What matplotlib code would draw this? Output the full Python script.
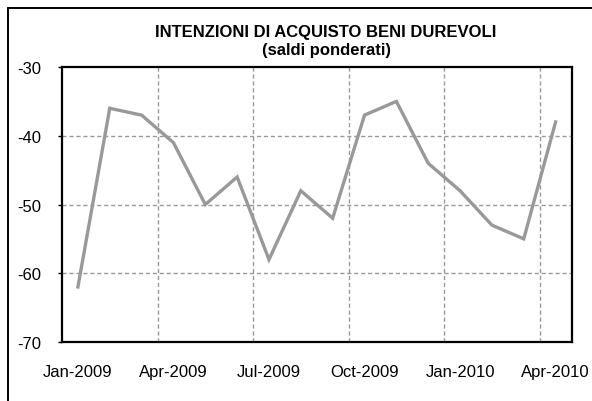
"""Intenzioni di acquisto beni durevoli - saldi ponderati."""

import matplotlib

matplotlib.use("Agg")
import matplotlib.pyplot as plt
from matplotlib.patches import Rectangle


MONTHS = [
    "Jan-2009", "Feb-2009", "Mar-2009", "Apr-2009", "May-2009", "Jun-2009",
    "Jul-2009", "Aug-2009", "Sep-2009", "Oct-2009", "Nov-2009", "Dec-2009",
    "Jan-2010", "Feb-2010", "Mar-2010", "Apr-2010",
]
SALDI = [-62, -36, -37, -41, -50, -46, -58, -48, -52, -37, -35, -44, -48, -53, -55, -38]
Y_TICKS = [-70, -60, -50, -40, -30]
TITLE = "INTENZIONI DI ACQUISTO BENI DUREVOLI"
SUBTITLE = "(saldi ponderati)"

plt.rcParams["font.family"] = ["Liberation Sans", "DejaVu Sans"]

fig = plt.figure(figsize=(5.92, 4.02), dpi=100)
ax = fig.add_axes([0.1047, 0.1468, 0.8607, 0.684])

# outer chart frame (runs off the right and bottom edges)
fig.patches.append(
    Rectangle((8 / 592, -0.05), 1.0, 1 - 9 / 402 + 0.05,
              transform=fig.transFigure, fill=False,
              edgecolor="black", linewidth=1.4)
)

x = list(range(len(MONTHS)))
ax.plot(x, SALDI, color="#999999", linewidth=2.4, solid_joinstyle="miter", zorder=3)

ax.set_xlim(-0.5, len(MONTHS) - 0.5)
ax.set_ylim(Y_TICKS[0], Y_TICKS[-1])
ax.set_yticks(Y_TICKS)
ax.set_yticklabels([str(v) for v in Y_TICKS])
ax.set_xticks(x[::3])
ax.set_xticklabels(MONTHS[::3])

# gridlines sit between categories, every 3 months
for boundary in [2.5, 5.5, 8.5, 11.5, 14.5]:
    ax.axvline(boundary, color="#999999", linestyle=(0, (3, 2)), linewidth=1.0, zorder=1)
for level in Y_TICKS[1:-1]:
    ax.axhline(level, color="#999999", linestyle=(0, (3, 2)), linewidth=1.0, zorder=1)

ax.tick_params(axis="y", direction="out", length=3, width=1.0, pad=12, labelsize=12)
ax.tick_params(axis="x", length=0, pad=16, labelsize=12)
for spine in ax.spines.values():
    spine.set_linewidth(1.6)
    spine.set_color("black")

fig.text(326 / 592, 1 - 32 / 402, TITLE, ha="center", va="center",
         fontsize=12, fontweight="bold")
fig.text(326 / 592, 1 - 51 / 402, SUBTITLE, ha="center", va="center",
         fontsize=12, fontweight="bold")

fig.savefig("out.png", dpi=100)
